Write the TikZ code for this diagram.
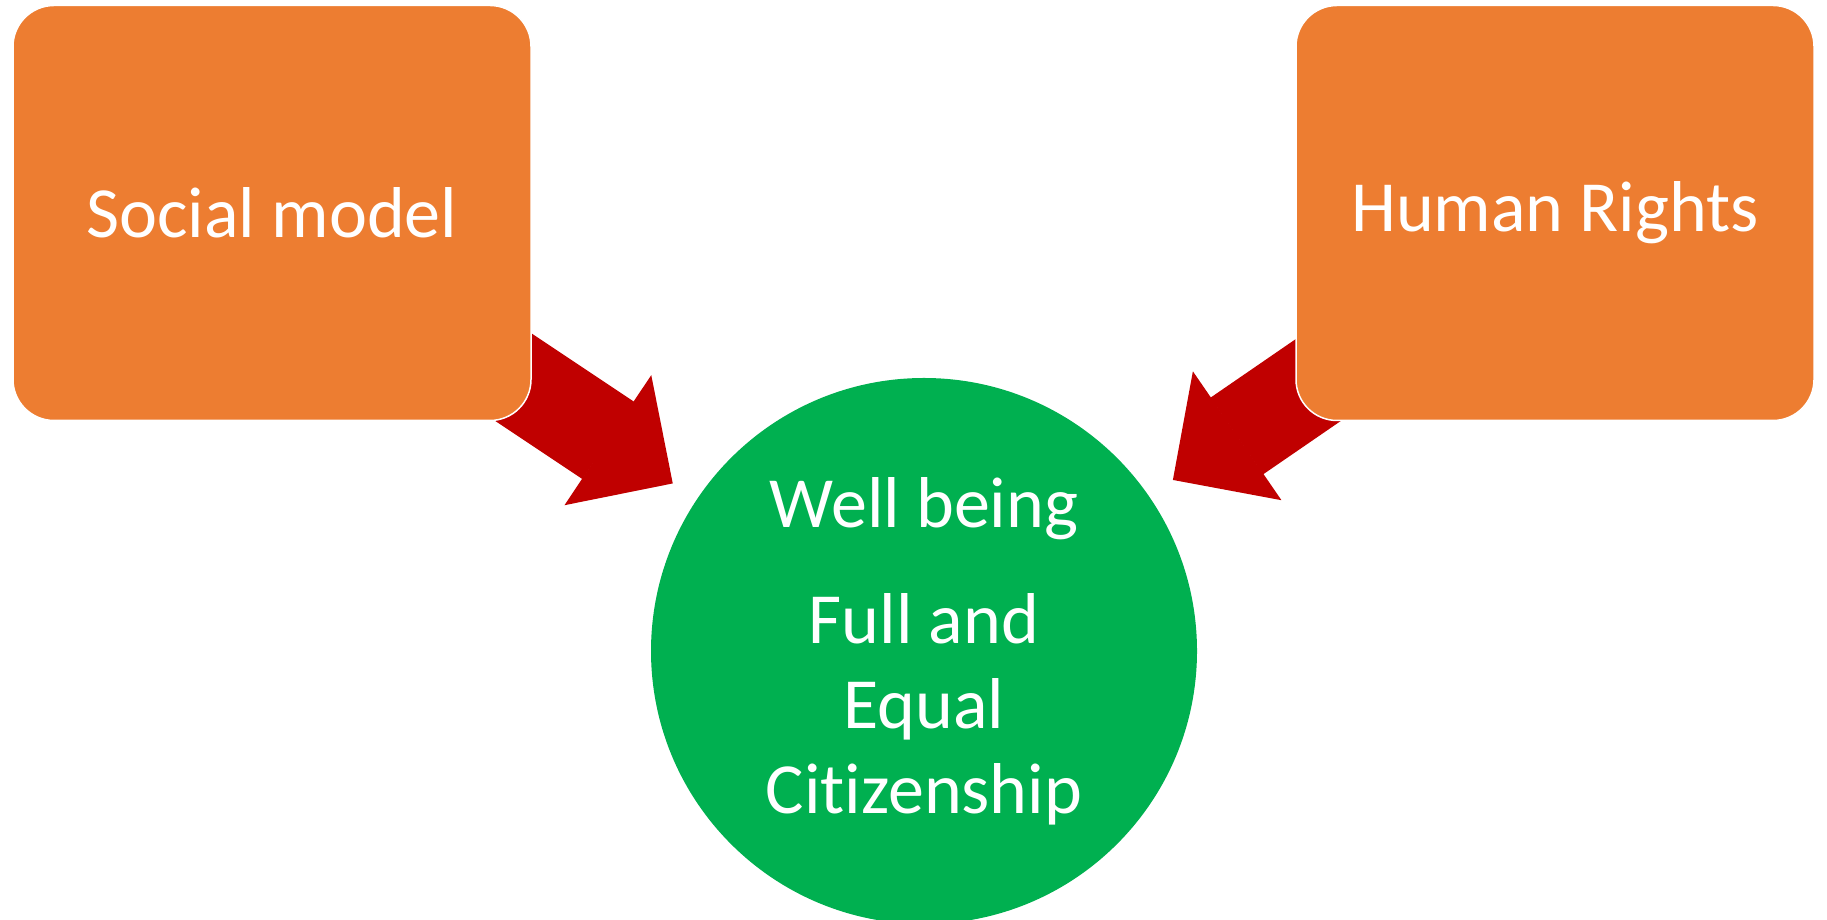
\documentclass[tikz,border=0pt]{standalone}
\usepackage{fontspec}
\setmainfont{Carlito}[Ligatures=NoCommon]
\usetikzlibrary{calc,arrows.meta}
\definecolor{boxorange}{HTML}{ED7D31}
\definecolor{arrowred}{HTML}{C00000}
\definecolor{circlegreen}{HTML}{00B050}

\begin{document}
\begin{tikzpicture}[x=1pt, y=1pt,
		box/.style={rectangle, rounded corners=41pt, fill=boxorange, draw=white, line width=1.5pt, minimum width=518pt, minimum height=415pt, inner sep=0pt, text=white, font=\fontsize{72}{85}\selectfont},
		bigarrow/.style={draw=arrowred, line width=93pt, -{Triangle[width=156pt, length=78pt, line width=2pt]}}]
				\useasboundingbox (0,0) rectangle (1827,920);
				
				\node[circle, fill=circlegreen, minimum size=546pt, inner sep=0pt, text=white, align=center, font=\fontsize{72}{85}\selectfont] (wellbeing) at (924,269) {Well being\\[31pt]Full and\\Equal\\Citizenship};
				
				\coordinate (tipsocial) at ($(wellbeing.center)+(146.3:302)$);
				\coordinate (tailsocial) at ($(wellbeing.center)+(146.3:532)$);
				\coordinate (tiprights) at ($(wellbeing.center)+(34.5:302)$);
				\coordinate (tailrights) at ($(wellbeing.center)+(34.5:532)$);
				\draw[bigarrow] (tailsocial) -- (tipsocial);
				\draw[bigarrow] (tailrights) -- (tiprights);
				
				\node[box] (social) at (272,707) {Social model};
				\node[box] (rights) at (1555,707) {Human Rights};
			\end{tikzpicture}
\end{document}
